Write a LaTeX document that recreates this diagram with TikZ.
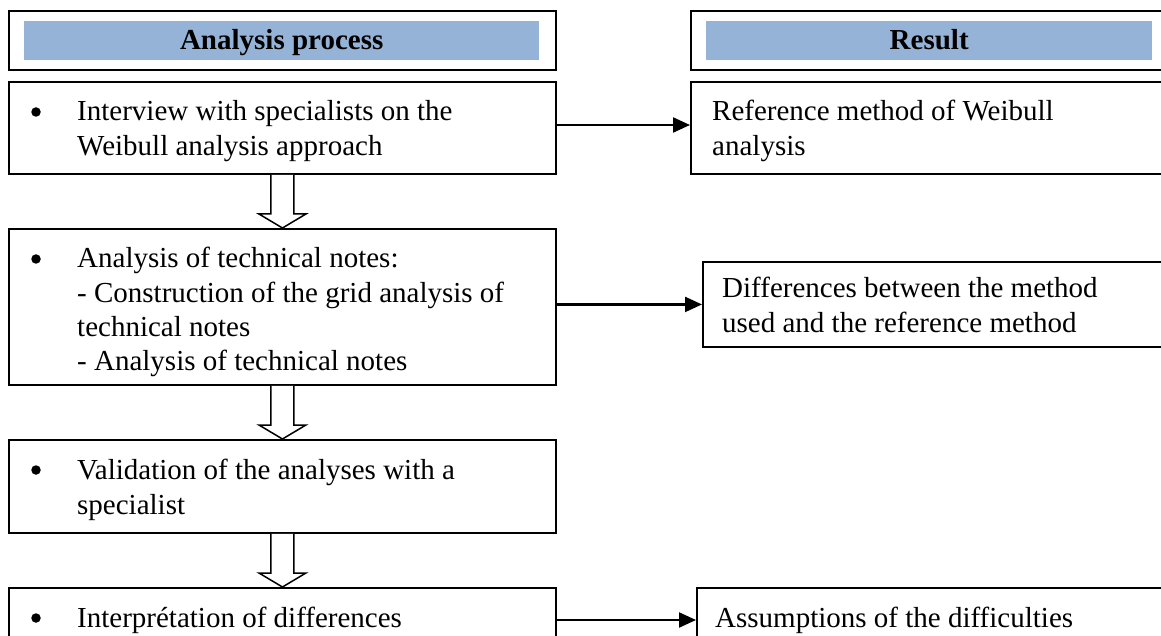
\documentclass[tikz,border=0pt]{standalone}
\usepackage{fontspec}
\setmainfont{Liberation Serif}
\usetikzlibrary{arrows.meta,calc}
\definecolor{hdrblue}{HTML}{95B3D7}
\newcommand\hollowarrow[2]{%
  \draw[hollow] ([xshift=-11.5pt]#1.south) -- ([xshift=-11.5pt,yshift=14pt]#2.north)
    -- ([xshift=-23.5pt,yshift=14pt]#2.north) -- (#2.north)
    -- ([xshift=23.5pt,yshift=14pt]#2.north) -- ([xshift=11.5pt,yshift=14pt]#2.north)
    -- ([xshift=11.5pt]#1.south);}
\begin{document}
\begin{tikzpicture}[x=1pt,y=-1pt,
  frame/.style={draw=black,line width=1.9pt,inner sep=0pt,anchor=north west},
  hdrfill/.style={fill=hdrblue,inner sep=0pt,anchor=north west,text height=21pt,text depth=4pt,font=\fontsize{29}{35}\selectfont\bfseries},
  txt/.style={anchor=base west,inner sep=0pt,font=\fontsize{29}{35}\selectfont},
  flow/.style={line width=2.2pt,-{Triangle[length=17pt,width=15pt]}},
  hollow/.style={draw=black,fill=white,line width=1.5pt,line join=miter},
  dot/.style={circle,fill=black,inner sep=0pt,minimum size=9.5pt}
]
\useasboundingbox (0,0) rectangle (1161,636);
\clip (0,0) rectangle (1161,636);

% headers
\node[frame,minimum width=547pt,minimum height=59pt] (hL) at (8,10) {};
\node[hdrfill,minimum width=515pt,minimum height=39pt] (hLb) at (24,21) {Analysis process};
\node[frame,minimum width=520pt,minimum height=59pt] (hR) at (690,10) {};
\node[hdrfill,minimum width=446pt,minimum height=39pt] (hRb) at (706,21) {Result};

% process boxes
\node[frame,minimum width=547pt,minimum height=92pt] (b1) at (8,81) {};
\node[frame,minimum width=547pt,minimum height=156pt] (b2) at (8,228) {};
\node[frame,minimum width=547pt,minimum height=93pt] (b3) at (8,439) {};
\node[frame,minimum width=547pt,minimum height=110pt] (b4) at (8,587) {};

% result boxes
\node[frame,minimum width=520pt,minimum height=92pt] (r1) at (690,81) {};
\node[frame,minimum width=520pt,minimum height=85pt] (r2) at (702,261) {};
\node[frame,minimum width=520pt,minimum height=110pt] (r4) at (696,587) {};

% texts box 1
\node[dot] (d1) at (36,112) {};
\node[txt] (t11) at (77,121) {Interview with specialists on the};
\node[txt] (t12) at (77,156) {Weibull analysis approach};
% box 2
\node[dot] (d2) at (36,259) {};
\node[txt] (t21) at (77,268) {Analysis of technical notes:};
\node[txt] (t22) at (77,302) {- Construction of the grid analysis of};
\node[txt] (t23) at (77,336) {technical notes};
\node[txt] (t24) at (77,370) {- Analysis of technical notes};
% box 3
\node[dot] (d3) at (36,470) {};
\node[txt] (t31) at (77,479) {Validation of the analyses with a};
\node[txt] (t32) at (77,514) {specialist};
% box 4
\node[dot] (d4) at (36,618) {};
\node[txt] (t41) at (77,627) {Interprétation of differences};

% result texts
\node[txt] (s11) at (712,121) {Reference method of Weibull};
\node[txt] (s12) at (712,156) {analysis};
\node[txt] (s21) at (722,297) {Differences between the method};
\node[txt] (s22) at (722,332) {used and the reference method};
\node[txt] (s41) at (715,627) {Assumptions of the difficulties};

% connectors
\coordinate (a1) at (0,125);
\draw[flow] (b1.east |- a1) -- (r1.west |- a1);
\draw[flow] (b2.east |- r2.west) -- (r2.west);
\coordinate (a4) at (0,620);
\draw[flow] (b4.east |- a4) -- (r4.west |- a4);

\hollowarrow{b1}{b2}
\hollowarrow{b2}{b3}
\hollowarrow{b3}{b4}
\end{tikzpicture}
\end{document}
